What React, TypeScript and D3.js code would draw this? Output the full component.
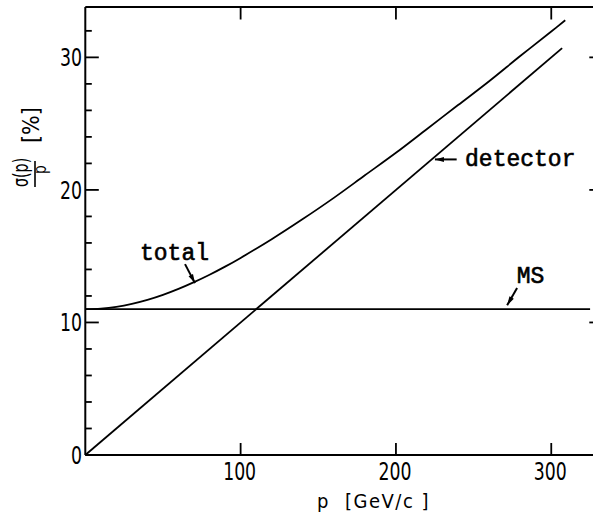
import React from "react";
import * as d3 from "d3";

// momentum points (GeV/c) and resolution readings (%)
const totalP = [0, 10, 20, 30, 40, 50, 60, 70, 80, 90, 100, 120, 140, 160, 180, 200, 220, 240, 260, 280, 300, 309];
const totalRes = [11.0, 11.05, 11.18, 11.4, 11.7, 12.08, 12.53, 13.04, 13.6, 14.21, 14.87, 16.28, 17.8, 19.4, 21.1, 22.8, 24.6, 26.4, 28.2, 30.1, 31.95, 32.8];
const detectorP = [0, 307];
const detectorRes = [0, 30.7];
const msP = [0, 325];
const msRes = [11, 11];

const xTicks = [100, 200, 300];
const yMajor = [0, 10, 20, 30];
const yMinor = [2, 4, 6, 8, 12, 14, 16, 18, 22, 24, 26, 28, 32];

// annotations: label position and arrow (tail -> tip) in data units
const notes = [
  { text: "total", lx: 35.2, ly: 14.7, tail: [64.2, 14.4], tip: [70.6, 12.97] },
  { text: "detector", lx: 244.5, ly: 21.8, tail: [239.1, 22.3], tip: [225.1, 22.3] },
  { text: "MS", lx: 277.8, ly: 13.0, tail: [278, 12.6], tip: [271.6, 11.3] },
];

const W = 593;
const H = 514;
const tickFont = "'DejaVu Sans Condensed', 'Liberation Sans', sans-serif";
const monoFont = "'Liberation Mono', 'DejaVu Sans Mono', monospace";

export default function App() {
  const x = d3.scaleLinear().domain([0, 329]).range([85.3, 596.3]);
  const y = d3.scaleLinear().domain([0, 33.8]).range([455, 7]);

  const line = d3
    .line<[number, number]>()
    .x((d) => x(d[0]))
    .y((d) => y(d[1]))
    .curve(d3.curveCatmullRom);

  const pairs = (ps: number[], vs: number[]) => ps.map((p, i) => [p, vs[i]] as [number, number]);

  const x0 = x(0);
  const xr = x(329);
  const y0 = y(0);
  const yt = y(33.8);

  const arrowHead = (tail: number[], tip: number[]) => {
    const ax = x(tip[0]);
    const ay = y(tip[1]);
    const dx = ax - x(tail[0]);
    const dy = ay - y(tail[1]);
    const len = Math.hypot(dx, dy);
    const ux = dx / len;
    const uy = dy / len;
    const bx = ax - ux * 9;
    const by = ay - uy * 9;
    return `M${ax},${ay}L${bx - uy * 2.5},${by + ux * 2.5}L${bx + uy * 2.5},${by - ux * 2.5}Z`;
  };

  return (
    <>
      <style>{`body{margin:0}`}</style>
      <svg width={W} height={H} style={{ display: "block", background: "#fff" }}>
        {/* frame (right side lies just past the edge) */}
        <g stroke="#000" strokeWidth={2} fill="none">
          <line x1={x0} x2={x0} y1={yt} y2={y0} />
          <line x1={x0} x2={xr} y1={y0} y2={y0} />
          <line x1={x0} x2={xr} y1={yt} y2={yt} />
        </g>

        {/* ticks */}
        <g stroke="#000" strokeWidth={1.8}>
          {yMajor.map((t) => (
            <line key={"ym" + t} x1={x0} x2={x0 + 13.5} y1={y(t)} y2={y(t)} />
          ))}
          {yMinor.map((t) => (
            <line key={"yn" + t} x1={x0} x2={x0 + 6.5} y1={y(t)} y2={y(t)} />
          ))}
          {yMajor.filter((t) => t > 0).map((t) => (
            <line key={"yr" + t} x1={xr} x2={xr - 7} y1={y(t)} y2={y(t)} />
          ))}
          {xTicks.map((t) => (
            <line key={"xb" + t} x1={x(t)} x2={x(t)} y1={y0} y2={y0 - 12} />
          ))}
          {xTicks.map((t) => (
            <line key={"xt" + t} x1={x(t)} x2={x(t)} y1={yt} y2={yt + 12.5} />
          ))}
        </g>

        {/* tick labels */}
        <g fontFamily={tickFont} fontSize={24} fill="#000">
          {yMajor.map((t) => (
            <text key={"yl" + t} transform={`translate(82,${y(t) + 9}) scale(0.8,1)`} textAnchor="end">
              {t}
            </text>
          ))}
          {xTicks.map((t) => (
            <text key={"xl" + t} transform={`translate(${x(t) - 1},480) scale(0.8,1)`} textAnchor="middle">
              {t}
            </text>
          ))}
        </g>

        {/* axis titles */}
        <g fontFamily={tickFont} fontSize={20} fill="#000">
          <text x={317} y={508}>p</text>
          <text x={345} y={508} letterSpacing={1.5}>[GeV/c ]</text>
        </g>
        <g transform="translate(33,187) rotate(-90)" fontFamily={tickFont} fill="#000">
          <text transform="translate(0,-5) scale(0.72,1)" fontSize={22}>σ(p)</text>
          <line x1={0} x2={26} y1={2} y2={2} stroke="#000" strokeWidth={1.6} />
          <text transform="translate(13,13) scale(0.85,1)" fontSize={18}>p</text>
          <text x={44} y={6} fontSize={23}>[%]</text>
        </g>

        {/* curves */}
        <g fill="none" stroke="#000" strokeWidth={1.8}>
          <path d={line(pairs(msP, msRes)) || ""} />
          <path d={line(pairs(detectorP, detectorRes)) || ""} />
          <path d={line(pairs(totalP, totalRes)) || ""} />
        </g>

        {/* annotations */}
        <g fontFamily={monoFont} fontSize={23} fill="#000">
          {notes.map((n) => (
            <g key={n.text}>
              <text x={x(n.lx)} y={y(n.ly)} stroke="#000" strokeWidth={0.6}>
                {n.text}
              </text>
              <line
                x1={x(n.tail[0])}
                y1={y(n.tail[1])}
                x2={x(n.tip[0])}
                y2={y(n.tip[1])}
                stroke="#000"
                strokeWidth={2}
              />
              <path d={arrowHead(n.tail, n.tip)} />
            </g>
          ))}
        </g>
      </svg>
    </>
  );
}
